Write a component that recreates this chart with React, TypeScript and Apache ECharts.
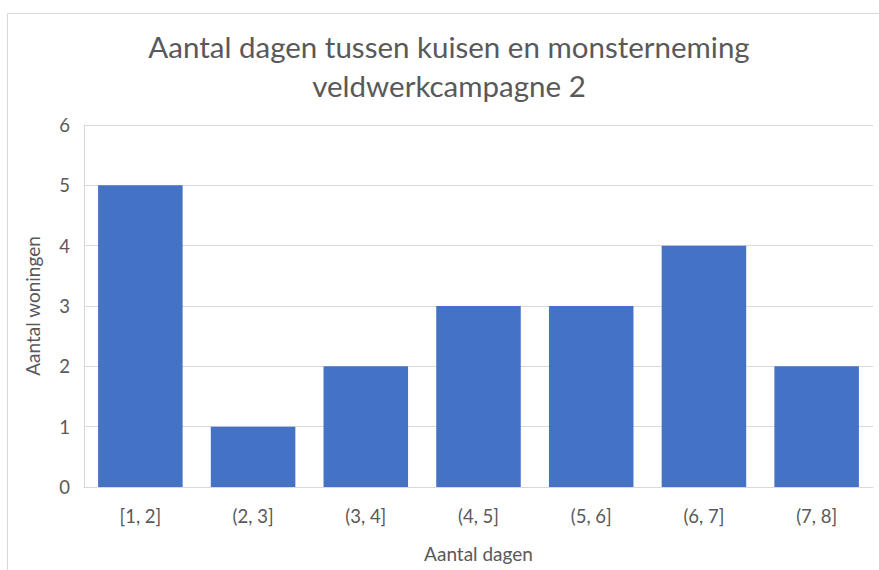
import React, { useEffect, useRef } from "react";
import * as echarts from "echarts";

const categories = ["[1, 2]", "(2, 3]", "(3, 4]", "(4, 5]", "(5, 6]", "(6, 7]", "(7, 8]"];
const values = [5, 1, 2, 3, 3, 4, 2];
const titleLines = ["Aantal dagen tussen kuisen en monsterneming", "veldwerkcampagne 2"];
const xAxisName = "Aantal dagen";
const yAxisName = "Aantal woningen";

const FONT = "Lato";
const GREY = "#595959";

export default function App() {
  const ref = useRef<HTMLDivElement>(null);
  useEffect(() => {
    const chart = echarts.init(ref.current!, null, { renderer: "svg" });
    chart.setOption({
      animation: false,
      backgroundColor: "#ffffff",
      textStyle: { fontFamily: FONT },
      title: {
        text: titleLines.join("\n"),
        left: 444,
        textAlign: "center",
        top: 22,
        textStyle: { fontFamily: FONT, fontSize: 29.5, fontWeight: "normal", color: GREY, lineHeight: 39 },
      },
      graphic: [
        {
          type: "rect",
          shape: { x: 7.5, y: 13.5, width: 1000, height: 700 },
          style: { fill: "none", stroke: "#d9d9d9", lineWidth: 1 },
          silent: true,
        },
      ],
      grid: { left: 84, right: 6, top: 125, bottom: 83, containLabel: false },
      xAxis: {
        type: "category",
        data: categories,
        name: xAxisName,
        nameLocation: "middle",
        nameGap: 57,
        nameTextStyle: { fontFamily: FONT, fontSize: 19, color: GREY },
        axisLine: { show: true, lineStyle: { color: "#d9d9d9" } },
        axisTick: { show: false },
        axisLabel: { fontFamily: FONT, fontSize: 18.5, color: GREY, margin: 19 },
      },
      yAxis: {
        type: "value",
        min: 0,
        max: 6,
        interval: 1,
        name: yAxisName,
        nameLocation: "middle",
        nameGap: 42,
        nameTextStyle: { fontFamily: FONT, fontSize: 19, color: GREY },
        axisLine: { show: true, lineStyle: { color: "#d9d9d9" } },
        axisTick: { show: false },
        axisLabel: { fontFamily: FONT, fontSize: 18.5, color: GREY, margin: 14 },
        splitLine: { lineStyle: { color: "#d9d9d9" } },
      },
      series: [
        {
          type: "bar",
          data: values,
          barCategoryGap: "25%",
          itemStyle: { color: "#4472c4" },
        },
      ],
    });
    return () => chart.dispose();
  }, []);
  return <div ref={ref} style={{ width: 879, height: 570, position: "fixed", left: 0, top: 0 }} />;
}
